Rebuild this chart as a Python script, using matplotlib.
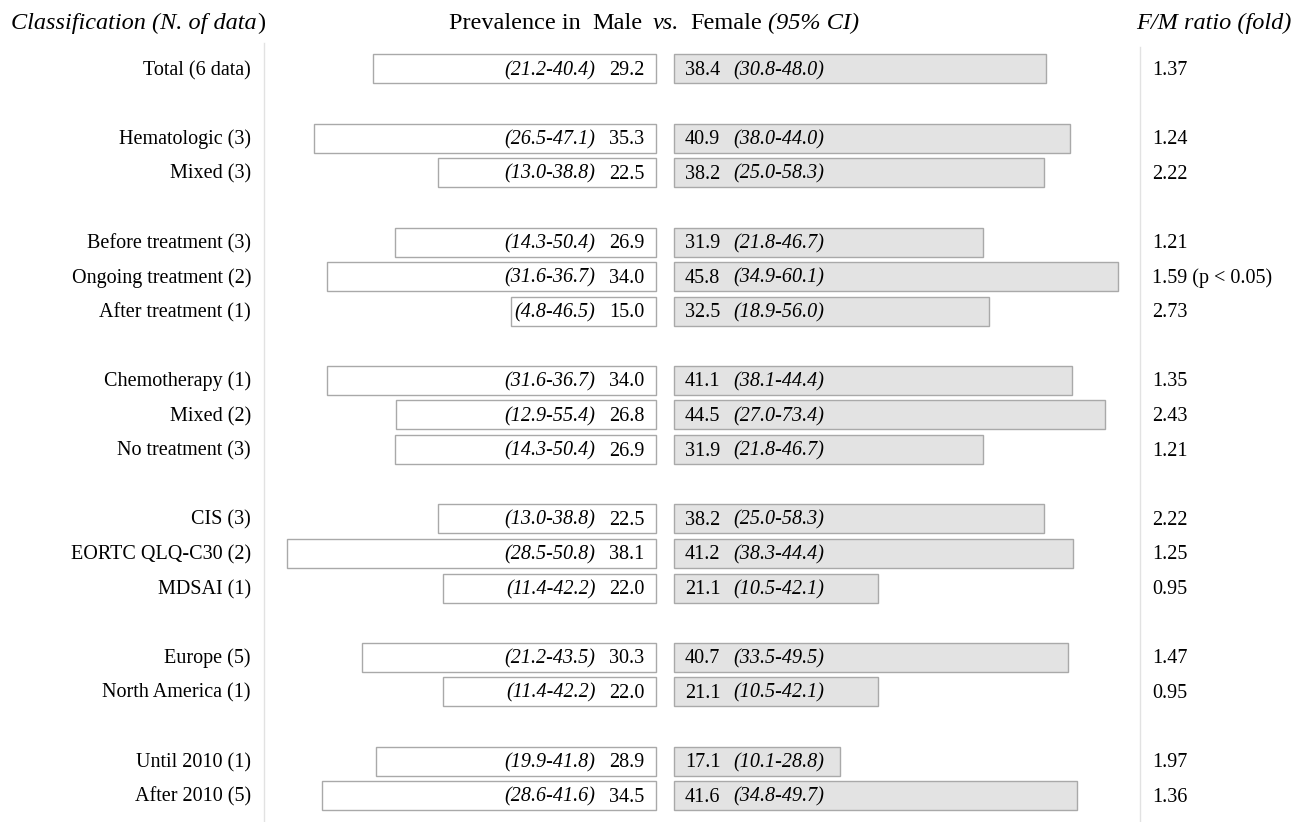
import matplotlib
matplotlib.use("Agg")
import matplotlib.pyplot as plt

# ---------------- data ----------------
categories = ["Total (6 data)",
              "Hematologic (3)", "Mixed (3)",
              "Before treatment (3)", "Ongoing treatment (2)", "After treatment (1)",
              "Chemotherapy (1)", "Mixed (2)", "No treatment (3)",
              "CIS (3)", "EORTC QLQ-C30 (2)", "MDSAI (1)",
              "Europe (5)", "North America (1)",
              "Until 2010 (1)", "After 2010 (5)"]
group_sizes = [1, 2, 3, 3, 3, 2, 2]

male = [29.2, 35.3, 22.5, 26.9, 34.0, 15.0, 34.0, 26.8, 26.9, 22.5, 38.1, 22.0, 30.3, 22.0, 28.9, 34.5]
male_ci = ["21.2-40.4", "26.5-47.1", "13.0-38.8", "14.3-50.4", "31.6-36.7", "4.8-46.5",
           "31.6-36.7", "12.9-55.4", "14.3-50.4", "13.0-38.8", "28.5-50.8", "11.4-42.2",
           "21.2-43.5", "11.4-42.2", "19.9-41.8", "28.6-41.6"]
female = [38.4, 40.9, 38.2, 31.9, 45.8, 32.5, 41.1, 44.5, 31.9, 38.2, 41.2, 21.1, 40.7, 21.1, 17.1, 41.6]
female_ci = ["30.8-48.0", "38.0-44.0", "25.0-58.3", "21.8-46.7", "34.9-60.1", "18.9-56.0",
             "38.1-44.4", "27.0-73.4", "21.8-46.7", "25.0-58.3", "38.3-44.4", "10.5-42.1",
             "33.5-49.5", "10.5-42.1", "10.1-28.8", "34.8-49.7"]
ratio = [1.37, 1.24, 2.22, 1.21, 1.59, 2.73, 1.35, 2.43, 1.21, 2.22, 1.25, 0.95, 1.47, 0.95, 1.97, 1.36]
ratio_note = {4: "(p < 0.05)"}

# ---------------- layout ----------------
W, H, DPI = 1296, 822, 100
PX_PER_UNIT = 9.69      # pixels per prevalence unit
X0_PX = 665             # centre between male / female bars
ROW0_PX = 69
ROW_PX = 34.6

def xu(px):
    return (px - X0_PX) / PX_PER_UNIT

def yu(py):
    return (py - ROW0_PX) / ROW_PX

rows = []
r = 0
for g in group_sizes:
    for k in range(g):
        rows.append(r)
        r += 1
    r += 1

REG = ["Liberation Serif", "DejaVu Serif"]
ITA = ["Liberation Serif", "STIXGeneral", "DejaVu Serif"]
FS = 14.5
HFS = 17.5
plt.rcParams["font.family"] = REG

fig = plt.figure(figsize=(W / DPI, H / DPI), dpi=DPI)
ax = fig.add_axes([0, 0, 1, 1])
ax.set_xlim(xu(0), xu(W))
ax.set_ylim(yu(H), yu(0))
ax.axis("off")

gap = xu(674)  # half gap between bars (in units)
edge = "#a9a9a9"
bh = 29 / ROW_PX

ax.barh(rows, male, left=[-gap - v for v in male], height=bh,
        color="white", edgecolor=edge, linewidth=1.0, zorder=2)
ax.barh(rows, female, left=gap, height=bh,
        color="#e3e3e3", edgecolor=edge, linewidth=1.0, zorder=2)

# separator lines
ax.plot([xu(264), xu(264)], [yu(43), yu(H)], color="#e2e2e2", lw=1.0, zorder=1)
ax.plot([xu(1140), xu(1140)], [yu(47), yu(H)], color="#e2e2e2", lw=1.0, zorder=1)

GAP_PT = 9.5          # gap between value and CI
BASE = 6.0 / ROW_PX   # baseline offset from row centre

def chain(prev, txt, side, y, off, fs, italic):
    """Place txt next to a previous text artist, sharing the baseline y."""
    return ax.annotate(txt, xy=(1 if side == "right" else 0, y), xycoords=(prev, "data"),
                       xytext=(off if side == "right" else -off, 0), textcoords="offset points",
                       ha="left" if side == "right" else "right", va="baseline",
                       fontsize=fs, family=ITA if italic else REG,
                       style="italic" if italic else "normal", zorder=3)

for i, row in enumerate(rows):
    yb = row + BASE
    ax.text(xu(251), yb, categories[i], ha="right", va="baseline", fontsize=FS, zorder=3)
    # male
    t = ax.text(xu(644), yb, f"{male[i]:.1f}", ha="right", va="baseline", fontsize=FS, zorder=3)
    chain(t, f"({male_ci[i]})", "left", yb, GAP_PT, FS, True)
    # female
    t = ax.text(xu(685), yb, f"{female[i]:.1f}", ha="left", va="baseline", fontsize=FS, zorder=3)
    chain(t, f"({female_ci[i]})", "right", yb, GAP_PT, FS, True)
    # ratio
    lab = f"{ratio[i]:.2f}"
    if i in ratio_note:
        lab += " " + ratio_note[i]
    ax.text(xu(1152), yb, lab, ha="left", va="baseline", fontsize=FS, zorder=3)

# headers
hy = yu(29)
t = ax.text(xu(11), hy, "Classification (N. of data", ha="left", va="baseline",
            fontsize=HFS, family=ITA, style="italic")
chain(t, ")", "right", hy, 0.5, HFS, False)

pieces = [("Prevalence in", False, 0), ("Male", False, 8), ("vs.", True, 8),
          ("Female", False, 8), ("(95% CI)", True, 4)]
prev = None
for txt, it, off in pieces:
    if prev is None:
        prev = ax.text(xu(449), hy, txt, ha="left", va="baseline", fontsize=HFS)
    else:
        prev = chain(prev, txt, "right", hy, off, HFS, it)

ax.text(xu(1292), hy, "F/M ratio (fold)", ha="right", va="baseline", fontsize=HFS,
        family=ITA, style="italic")

fig.savefig("out.png", dpi=DPI)
